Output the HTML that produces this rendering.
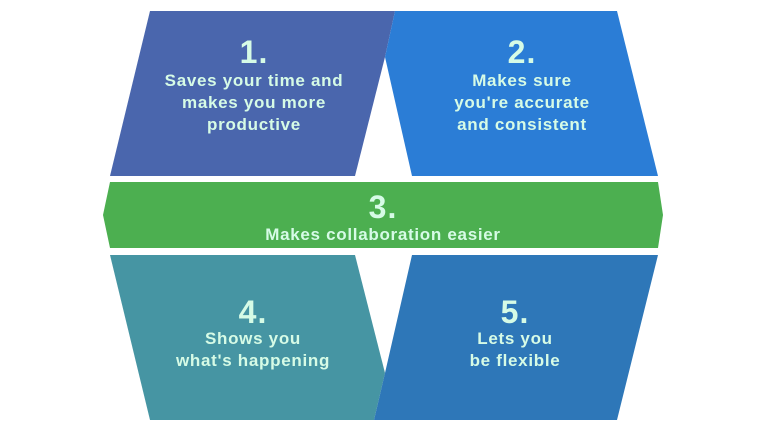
<!DOCTYPE html>
<html><head><meta charset="utf-8"><style>
html,body{margin:0;padding:0;background:#fff;}
svg{display:block;}
text{font-family:"Liberation Sans",sans-serif;fill:#d6fbe6;text-anchor:middle;}
.n{font-size:32px;font-weight:bold;letter-spacing:1px;}
.t{font-size:17px;font-weight:bold;letter-spacing:0.7px;}
</style></head><body>
<svg width="770" height="427" viewBox="0 0 770 427">
<polygon points="150,11 395,11 385,57 355,176 110,176" fill="#4a66ad"/>
<polygon points="395,11 617,11 658,176 412,176 385,57" fill="#2b7dd6"/>
<polygon points="110,182 658,182 663,215 658,248 110,248 103,215" fill="#4caf50"/>
<polygon points="110,255 355,255 385,373 374,420 150,420" fill="#4695a3"/>
<polygon points="412,255 658,255 617,420 374,420 385,373" fill="#2e77b8"/>
<text class="n" x="254" y="63">1.</text>
<text class="t" x="254" y="86">Saves your time and</text>
<text class="t" x="254" y="108">makes you more</text>
<text class="t" x="254" y="130">productive</text>
<text class="n" x="522" y="63">2.</text>
<text class="t" x="522" y="86">Makes sure</text>
<text class="t" x="522" y="108">you're accurate</text>
<text class="t" x="522" y="130">and consistent</text>
<text class="n" x="383" y="218">3.</text>
<text class="t" x="383" y="240">Makes collaboration easier</text>
<text class="n" x="253" y="323">4.</text>
<text class="t" x="253" y="344">Shows you</text>
<text class="t" x="253" y="366">what's happening</text>
<text class="n" x="515" y="323">5.</text>
<text class="t" x="515" y="344">Lets you</text>
<text class="t" x="515" y="366">be flexible</text>
</svg>
</body></html>
